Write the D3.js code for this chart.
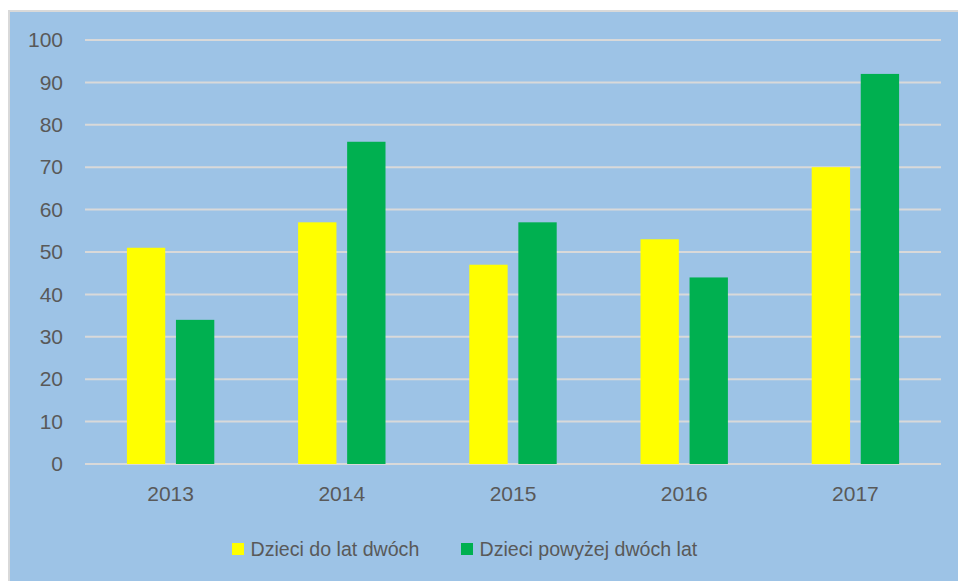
<!DOCTYPE html>
<html><head><meta charset="utf-8">
<script src="https://cdn.jsdelivr.net/npm/d3@7"></script>
<style>body{margin:0;background:#fff;} text{font-family:"Liberation Sans",Arial,sans-serif;fill:#595959;}</style>
</head><body>
<svg id="c" width="958" height="581"></svg>
<script>
const categories = ["2013","2014","2015","2016","2017"];
const seriesNames = ["Dzieci do lat dwóch","Dzieci powyżej dwóch lat"];
const seriesColors = ["#ffff00","#00b050"];
const youngValues = [51,57,47,53,70];
const olderValues = [34,76,57,44,92];
const yTicks = [0,10,20,30,40,50,60,70,80,90,100];

const svg = d3.select("#c");
svg.append("rect").attr("x",9).attr("y",11).attr("width",960).attr("height",580)
  .attr("fill","#9dc3e6").attr("stroke","#d9d9d9").attr("stroke-width",2);

const x = d3.scaleBand().domain(categories).range([85,941]);
const y = d3.scaleLinear().domain([0,100]).range([464,40]);

const g = svg.append("g");
g.selectAll("line.grid").data(yTicks).join("line")
  .attr("x1",85).attr("x2",941).attr("y1",d=>y(d)).attr("y2",d=>y(d))
  .attr("stroke","#d9d9d9").attr("stroke-width",2);

const yAxis = svg.append("g").attr("transform","translate(85,0)")
  .call(d3.axisLeft(y).tickValues(yTicks).tickSize(0).tickPadding(22));
yAxis.select(".domain").remove();
yAxis.selectAll("text").style("font-size","21px").style("font-family","Liberation Sans").attr("fill","#595959");

const xAxis = svg.append("g").attr("transform","translate(0,464)")
  .call(d3.axisBottom(x).tickSize(0).tickPadding(22));
xAxis.select(".domain").remove();
xAxis.selectAll("text").style("font-size","21px").style("font-family","Liberation Sans").attr("fill","#595959");

const bw = x.bandwidth()*0.224;
const gap = 10.7;
const data = [youngValues, olderValues];
data.forEach((vals,si)=>{
  svg.append("g").selectAll("rect").data(vals).join("rect")
    .attr("x",(d,i)=>x(categories[i])+x.bandwidth()/2 + (si===0 ? -gap/2-bw : gap/2))
    .attr("width",bw)
    .attr("y",d=>y(d)).attr("height",d=>y(0)-y(d))
    .attr("fill",seriesColors[si]);
});

const legX = [232,461];
seriesNames.forEach((n,i)=>{
  svg.append("rect").attr("x",legX[i]).attr("y",543).attr("width",12).attr("height",12).attr("fill",seriesColors[i]);
  svg.append("text").attr("x",legX[i]+18.5).attr("y",556).style("font-size","19.6px").text(n);
});
</script>
</body></html>
